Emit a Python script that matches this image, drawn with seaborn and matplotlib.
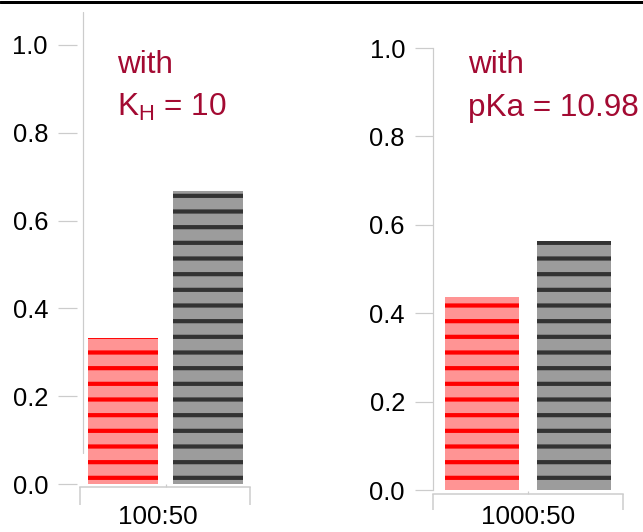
import matplotlib
matplotlib.use("Agg")
import matplotlib.pyplot as plt
from matplotlib.lines import Line2D
from matplotlib.transforms import ScaledTranslation
import seaborn as sns
import pandas as pd

# ---- data ----
series_names = ["series_1", "series_2"]
left_category = ["100:50"]
left_values = [0.333, 0.667]
right_category = ["1000:50"]
right_values = [0.436, 0.564]
y_ticks = [0.0, 0.2, 0.4, 0.6, 0.8, 1.0]
y_ticklabels = ["0.0", "0.2", "0.4", "0.6", "0.8", "1.0"]
left_note = ["with", "K$_{\\mathrm{H}}$ = 10"]
right_note = ["with", "pKa = 10.98"]

face_colors = ["#ff9494", "#9c9c9c"]
stripe_colors = ["#ff0000", "#333333"]
note_color = "#a30a32"
axis_gray = "#cccccc"

DPI = 94
P = 72.0 / DPI  # px -> pt

sns.set_theme(style="white")
plt.rcParams["font.family"] = ["Liberation Sans", "DejaVu Sans"]
plt.rcParams["mathtext.fontset"] = "custom"
plt.rcParams["mathtext.rm"] = "Liberation Sans"
plt.rcParams["mathtext.it"] = "Liberation Sans:italic"
plt.rcParams["hatch.linewidth"] = 4.2 * P

W, H = 643, 532
fig = plt.figure(figsize=(W / DPI, H / DPI), dpi=DPI)
fig.patch.set_facecolor("white")


def make_panel(rect_px, category, values, ylim_top, xlim, gap, spine_bounds,
               yspine_mode, x_out_px, xlabel_pad_px, xlabel_dx_px, xtick_len_px,
               note, note_pos):
    x0, y0, x1, y1 = rect_px  # pixel coords from top-left
    ax = fig.add_axes([x0 / W, 1 - y1 / H, (x1 - x0) / W, (y1 - y0) / H])
    df = pd.DataFrame({"cat": category * len(series_names),
                       "series": series_names,
                       "value": values})
    sns.barplot(data=df, x="cat", y="value", hue="series", ax=ax,
                palette=face_colors, width=0.8, gap=gap, legend=False,
                saturation=1, errorbar=None)
    for cont, sc in zip(ax.containers, stripe_colors):
        for bar in cont:
            bar.set_hatch("-")
            bar.set_edgecolor(sc)
            bar.set_linewidth(0)
    ax.set_xlim(*xlim)
    ax.set_ylim(0, ylim_top)
    ax.set_xlabel("")
    ax.set_ylabel("")
    ax.set_facecolor("none")
    for s in ["top", "right"]:
        ax.spines[s].set_visible(False)

    # y axis
    ax.set_yticks(y_ticks)
    ax.set_yticklabels(y_ticklabels)
    if yspine_mode == "detached":
        ax.spines["left"].set_position(("outward", 3 * P))
        ax.spines["left"].set_visible(False)
        ax.plot([3 / (x1 - x0)] * 2, list(spine_bounds), color=axis_gray,
                lw=1.2 * P, transform=ax.get_yaxis_transform(), clip_on=False)
        ytl = 19
    else:
        ax.spines["left"].set_color(axis_gray)
        ax.spines["left"].set_linewidth(1.2 * P)
        ax.spines["left"].set_bounds(*spine_bounds)
        ytl = 18
    ax.tick_params(axis="y", which="major", direction="out", length=ytl * P,
                   width=1.2 * P, color=axis_gray, pad=10 * P,
                   labelsize=25.5 * P, labelcolor="black", left=True)

    # x axis
    ax.spines["bottom"].set_position(("outward", x_out_px * P))
    ax.spines["bottom"].set_color(axis_gray)
    ax.spines["bottom"].set_linewidth(1.5 * P)
    ax.set_xticks([0])
    ax.set_xticklabels(category)
    ax.set_xticks(list(xlim), minor=True)
    ax.tick_params(axis="x", which="major", direction="in", length=3 * P,
                   width=1.2 * P, color=axis_gray, pad=xlabel_pad_px * P,
                   labelsize=26 * P, labelcolor="black", bottom=True)
    ax.tick_params(axis="x", which="minor", direction="out",
                   length=xtick_len_px * P, width=1.5 * P, color=axis_gray,
                   bottom=True)
    if xlabel_dx_px:
        for lab in ax.get_xticklabels():
            lab.set_transform(lab.get_transform() +
                              ScaledTranslation(xlabel_dx_px / DPI, 0,
                                                fig.dpi_scale_trans))

    # annotation
    (nx, ny1, ny2) = note_pos
    ax.text(nx, ny1, note[0], transform=ax.transAxes, color=note_color,
            fontsize=31.5 * P, ha="left", va="baseline")
    ax.text(nx, ny2, note[1], transform=ax.transAxes, color=note_color,
            fontsize=31.5 * P, ha="left", va="baseline")
    return ax


# left panel: axes box 80..250 px wide, data 0 at y=484, top at y=12
make_panel((80, 12, 250, 484), left_category, left_values, 1.075,
           ((80 - 165.5) / 212.5, (250 - 165.5) / 212.5), 0.176,
           (0.07, 1.075), "detached", 3, 18, -8, 18, left_note,
           (0.215, (459 - 48) / 472, (416 - 48) / 472))

# right panel: axes box 433..623 px wide, data 0 at y=490, top at y=48
make_panel((433, 48, 623, 490), right_category, right_values, 1.0,
           ((433 - 528) / 228.75, (623 - 528) / 228.75), 0.186,
           (0.0, 1.0), "attached", 4, 11, 0, 16, right_note,
           (0.184, (459 - 42) / 442, (416 - 42) / 442))

# top black rule
fig.add_artist(Line2D([0, 1], [1 - 1.5 / H, 1 - 1.5 / H], color="black",
                      lw=3 * P, transform=fig.transFigure))

fig.savefig("out.png", dpi=DPI, facecolor="white")
